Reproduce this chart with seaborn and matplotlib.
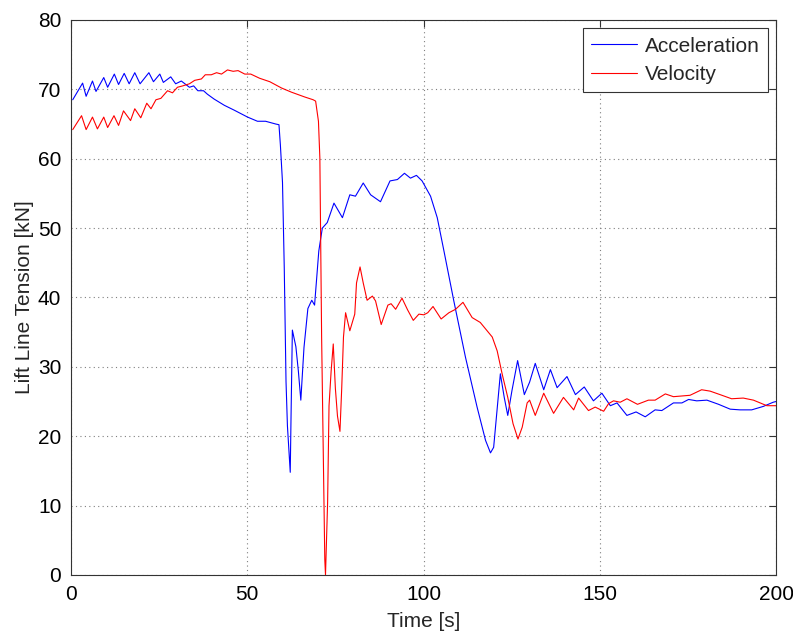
import matplotlib
matplotlib.use("Agg")
import matplotlib.pyplot as plt
import pandas as pd
import seaborn as sns

# Acceleration series (time [s], tension [kN])
acc_t = [0.5, 3.3, 4.3, 6.1, 7.1, 9.3, 10.4, 12.3, 13.5, 15.1,
         16.5, 18.1, 19.6, 22.1, 23.4, 25.2, 26.2, 28.3, 29.7, 31.3,
         33.6, 34.8, 36.0, 37.6, 38.7, 40.6, 43.5, 46.3, 50.1, 52.9,
         55.2, 58.1, 59.0, 59.4, 60.0, 60.5, 61.0, 61.4, 62.2, 62.4,
         62.8, 63.8, 64.5, 65.2, 66.1, 67.2, 68.3, 69.1, 70.3, 71.3,
         72.7, 74.6, 77.0, 79.1, 80.7, 82.9, 85.0, 87.8, 90.5, 92.6,
         94.6, 96.3, 98.0, 99.6, 102.0, 103.9, 105.8, 108.6, 111.9, 115.2,
         117.6, 119.0, 119.9, 121.8, 122.9, 123.9, 125.1, 126.7, 128.6, 130.1,
         131.7, 134.1, 136.0, 137.9, 140.7, 143.1, 145.6, 148.2, 150.6, 153.0,
         154.9, 157.7, 160.3, 162.9, 165.7, 167.6, 170.9, 173.3, 175.2, 177.5,
         180.4, 183.7, 187.0, 189.8, 193.1, 196.4, 199.2, 200.0]
acc_v = [68.5, 70.9, 69.0, 71.2, 69.7, 71.7, 70.3, 72.2, 70.7, 72.3,
         70.8, 72.4, 70.8, 72.4, 71.1, 72.2, 71.0, 71.8, 70.8, 71.2,
         70.3, 70.5, 69.8, 69.8, 69.3, 68.6, 67.7, 67.0, 66.0, 65.4,
         65.4, 65.0, 64.9, 62.0, 56.6, 44.3, 27.9, 21.5, 14.8, 22.0,
         35.3, 32.9, 29.4, 25.2, 32.8, 38.4, 39.6, 38.9, 46.7, 50.0,
         50.8, 53.6, 51.5, 54.8, 54.6, 56.5, 54.8, 53.8, 56.8, 57.0,
         57.9, 57.2, 57.6, 56.8, 54.6, 51.5, 46.7, 39.5, 31.4, 24.2,
         19.4, 17.6, 18.4, 29.0, 25.6, 23.0, 26.6, 30.9, 26.0, 27.8,
         30.5, 26.7, 29.6, 27.0, 28.6, 26.0, 27.1, 25.1, 26.2, 24.4,
         24.8, 23.0, 23.5, 22.8, 23.8, 23.7, 24.8, 24.8, 25.3, 25.1,
         25.2, 24.6, 23.9, 23.8, 23.8, 24.3, 24.9, 25.0]

# Velocity series
vel_t = [0.5, 3.0, 4.3, 6.1, 7.5, 9.3, 10.4, 12.2, 13.5, 14.9,
         16.9, 18.1, 19.8, 21.5, 22.7, 24.1, 25.5, 27.4, 28.8, 30.2,
         31.7, 33.6, 35.1, 37.0, 38.1, 39.8, 41.3, 42.7, 44.4, 46.0,
         47.4, 49.3, 51.0, 53.5, 56.4, 59.7, 62.5, 66.3, 68.7, 69.4,
         70.2, 70.6, 71.1, 72.0, 72.2, 72.8, 73.2, 73.8, 74.4, 75.0,
         75.6, 76.3, 76.8, 77.3, 77.9, 79.1, 80.5, 81.0, 82.0, 82.9,
         84.0, 85.5, 86.4, 88.0, 89.9, 90.8, 92.1, 93.9, 95.5, 97.1,
         98.7, 100.1, 101.2, 102.7, 105.0, 107.2, 109.1, 111.2, 113.8, 116.1,
         119.5, 120.9, 122.3, 123.9, 125.4, 126.8, 128.0, 129.4, 130.1, 131.7,
         134.1, 136.9, 139.7, 142.6, 144.0, 146.8, 148.7, 151.1, 152.5, 153.9,
         155.8, 157.7, 160.7, 163.8, 165.7, 168.6, 170.9, 175.6, 178.9, 181.3,
         184.1, 187.4, 190.7, 193.6, 195.5, 197.4, 200.0]
vel_v = [64.2, 66.2, 64.2, 66.0, 64.3, 66.0, 64.5, 66.2, 64.8, 66.9,
         65.5, 67.2, 65.9, 68.0, 67.2, 68.5, 68.7, 69.8, 69.5, 70.3,
         70.5, 70.8, 71.3, 71.5, 72.1, 72.1, 72.4, 72.2, 72.8, 72.6,
         72.7, 72.2, 72.2, 71.6, 71.1, 70.2, 69.6, 68.9, 68.5, 68.3,
         65.4, 60.1, 34.3, 2.2, 0.0, 10.5, 24.4, 29.4, 33.3, 26.9,
         22.9, 20.7, 26.9, 34.3, 37.8, 35.2, 37.6, 42.1, 44.4, 42.1,
         39.6, 40.2, 39.5, 36.1, 38.9, 39.1, 38.3, 39.9, 38.2, 36.7,
         37.6, 37.5, 37.8, 38.7, 36.9, 37.8, 38.3, 39.3, 37.1, 36.4,
         34.3, 32.3, 29.0, 25.6, 21.8, 19.6, 21.3, 24.8, 25.2, 23.0,
         26.2, 23.3, 25.6, 23.8, 25.5, 23.7, 24.2, 23.6, 24.7, 25.1,
         24.9, 25.4, 24.6, 25.2, 25.2, 26.1, 25.7, 25.9, 26.7, 26.5,
         26.0, 25.4, 25.5, 25.2, 24.8, 24.4, 24.4]

x_ticks = [0, 50, 100, 150, 200]
y_ticks = [0, 10, 20, 30, 40, 50, 60, 70, 80]


def main() -> None:
    df = pd.concat([
        pd.DataFrame({"t": acc_t, "v": acc_v, "series": "Acceleration"}),
        pd.DataFrame({"t": vel_t, "v": vel_v, "series": "Velocity"}),
    ], ignore_index=True)

    sns.set_theme(style="white")
    plt.rcParams["font.family"] = ["Liberation Sans", "DejaVu Sans"]

    fig = plt.figure(figsize=(7.93, 6.34), dpi=100)
    ax = fig.add_axes([0.0895, 0.0931, 0.8891, 0.8754])
    sns.lineplot(data=df, x="t", y="v", hue="series", sort=False,
                 palette={"Acceleration": "#0000ff", "Velocity": "#ff0000"},
                 linewidth=0.8, ax=ax, estimator=None)

    ax.set_xlim(0, 200)
    ax.set_ylim(0, 80)
    ax.set_xticks(x_ticks)
    ax.set_yticks(y_ticks)
    ax.grid(True, linestyle=(0, (1, 3)), color="#7f7f7f", linewidth=0.8)
    for s in ax.spines.values():
        s.set_color("#333333")
        s.set_linewidth(0.8)
    ax.tick_params(direction="in", length=5, width=0.8, colors="#333333",
                   labelcolor="black", labelsize=15, top=True, right=True,
                   pad=7)
    ax.set_xlabel("Time [s]", fontsize=15, labelpad=6)
    ax.set_ylabel("Lift Line Tension [kN]", fontsize=15, labelpad=3)

    leg = ax.legend(loc="upper right", fontsize=15, fancybox=False,
                    handlelength=2.2, borderaxespad=0.4, borderpad=0.4,
                    labelspacing=0.45, handletextpad=0.35, framealpha=1)
    leg.get_frame().set_edgecolor("#333333")
    leg.get_frame().set_linewidth(0.8)

    fig.savefig("out.png", dpi=100)
    plt.close(fig)


if __name__ == "__main__":
    main()
